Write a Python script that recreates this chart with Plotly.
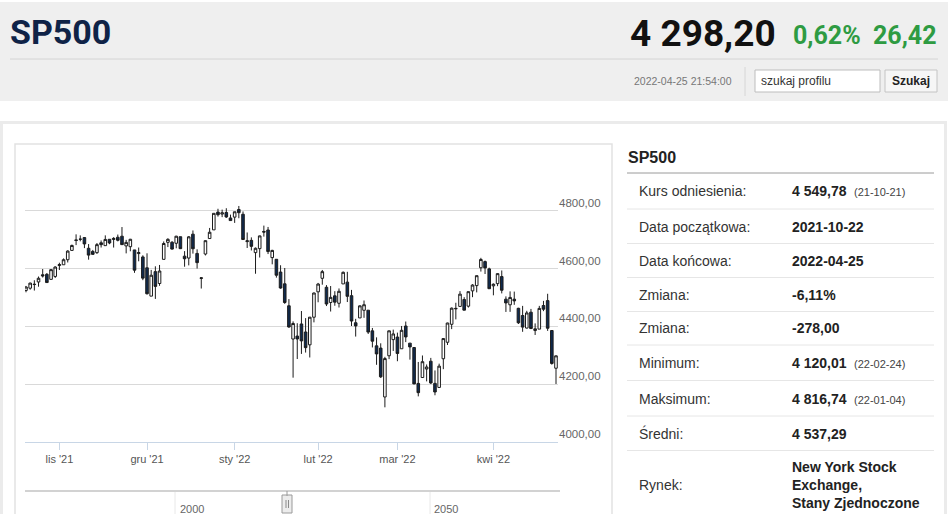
import plotly.graph_objects as go
import pandas as pd

W, H = 948, 514

# dni sesyjne (bez swiat i brakujacego notowania z 21.12)
skipped = ["2021-11-25", "2021-12-21", "2021-12-24", "2022-01-17", "2022-02-21", "2022-04-15"]
dates = [d.strftime("%Y-%m-%d") for d in pd.bdate_range("2021-10-20", "2022-04-25")
         if d.strftime("%Y-%m-%d") not in skipped]

opens = [
    4524.4, 4532.2, 4546.1, 4553.7, 4578.7, 4580.2, 4562.8, 4572.9,
    4610.6, 4613.3, 4630.7, 4662.9, 4699.3, 4701.5, 4707.3, 4670.3, 4659.4, 4655.2, 4689.3,
    4679.4, 4701.5, 4700.7, 4708.4, 4712.0, 4678.5, 4675.8, 4664.6, 4652.0, 4640.3,
    4602.8, 4504.7, 4589.5, 4548.4, 4632.0, 4690.9, 4691.0, 4687.6, 4710.3, 4643.0, 4636.5,
    4719.1, 4652.5, 4566.0, 4650.4, 4704.0, 4734.0, 4795.5, 4788.6, 4794.2, 4775.2,
    4778.1, 4804.5, 4788.0, 4693.4, 4697.7, 4655.3, 4669.1, 4728.6, 4733.6, 4638.0,
    4632.2, 4588.0, 4547.4, 4471.4, 4356.3, 4366.6, 4408.4, 4380.6, 4336.2, 4431.8,
    4519.6, 4566.4, 4535.4, 4482.8, 4505.8, 4480.0, 4547.0, 4553.2, 4506.3, 4412.6,
    4429.3, 4455.8, 4456.1, 4384.6, 4332.7, 4324.9, 4155.8, 4298.4, 4354.2,
    4363.1, 4322.6, 4401.3, 4342.1, 4327.0, 4202.7, 4223.1, 4252.6, 4279.5, 4202.8,
    4188.8, 4288.1, 4345.1, 4407.3, 4462.4, 4469.1, 4493.1, 4470.0, 4522.9, 4541.1,
    4602.9, 4624.2, 4599.0,
    4540.3, 4548.0, 4572.5, 4494.2, 4474.7, 4494.2, 4462.6, 4437.6, 4394.3, 4449.1,
    4385.6, 4390.6, 4472.3, 4489.2, 4385.8, 4255.3,
]
highs = [
    4540.0, 4551.4, 4559.7, 4572.6, 4598.5, 4584.6, 4597.6, 4608.1,
    4620.3, 4635.2, 4663.5, 4683.0, 4718.5, 4714.9, 4708.5, 4684.9, 4664.6, 4688.5, 4697.4,
    4715.0, 4701.5, 4708.8, 4717.8, 4743.8, 4699.4, 4702.9, 4664.6, 4672.9, 4646.0,
    4652.9, 4595.5, 4608.0, 4612.6, 4694.0, 4705.1, 4695.3, 4713.6, 4710.3, 4660.5, 4712.6,
    4732.0, 4666.7, 4570.0, 4697.7, 4740.7, 4791.5, 4807.0, 4804.1, 4808.9, 4786.8,
    4796.6, 4816.7, 4797.7, 4725.0, 4708.0, 4673.0, 4714.1, 4748.8, 4744.1, 4665.1,
    4632.2, 4611.6, 4602.1, 4494.5, 4417.4, 4411.0, 4453.2, 4428.7, 4432.7, 4516.9,
    4550.5, 4595.3, 4542.9, 4539.7, 4521.9, 4531.3, 4590.0, 4588.9, 4526.3, 4426.2,
    4472.8, 4489.6, 4456.1, 4394.6, 4362.1, 4341.5, 4294.7, 4385.3, 4388.8,
    4378.5, 4401.5, 4416.8, 4342.1, 4327.0, 4276.9, 4299.4, 4268.3, 4291.0, 4247.6,
    4271.1, 4358.9, 4412.7, 4465.4, 4481.8, 4522.0, 4501.1, 4520.6, 4546.0, 4575.7,
    4637.3, 4627.8, 4603.1,
    4548.7, 4583.5, 4593.5, 4503.9, 4521.2, 4520.4, 4464.4, 4471.0, 4453.9, 4460.5,
    4410.3, 4471.0, 4488.3, 4512.9, 4385.8, 4299.0,
]
lows = [
    4518.0, 4526.9, 4524.0, 4537.4, 4569.2, 4551.7, 4562.8, 4567.6,
    4595.1, 4613.3, 4621.2, 4662.6, 4681.3, 4694.4, 4670.9, 4630.9, 4648.3, 4650.8, 4672.9,
    4679.4, 4684.4, 4672.8, 4694.2, 4682.2, 4652.7, 4659.9, 4585.4, 4625.3, 4560.0,
    4510.3, 4504.7, 4495.1, 4540.5, 4632.0, 4674.5, 4666.0, 4670.2, 4667.6, 4606.5, 4611.2,
    4651.9, 4600.2, 4531.0, 4645.5, 4704.0, 4734.0, 4780.0, 4778.1, 4775.3, 4765.8,
    4758.2, 4774.3, 4699.4, 4671.3, 4662.7, 4582.2, 4638.3, 4710.6, 4650.3, 4614.8,
    4568.7, 4530.2, 4478.0, 4395.3, 4222.6, 4287.1, 4304.8, 4309.5, 4292.5, 4414.0,
    4483.5, 4544.3, 4470.4, 4451.5, 4471.5, 4465.4, 4547.0, 4484.3, 4401.4, 4364.8,
    4429.3, 4429.7, 4373.8, 4327.2, 4267.1, 4221.5, 4120.0, 4286.8, 4315.1,
    4279.5, 4322.6, 4345.6, 4285.0, 4199.9, 4157.9, 4223.1, 4209.8, 4200.5, 4161.7,
    4187.9, 4252.0, 4335.7, 4390.6, 4424.3, 4469.1, 4455.8, 4465.2, 4501.1, 4517.7,
    4589.7, 4581.3, 4530.4,
    4507.6, 4539.2, 4514.2, 4450.0, 4450.3, 4474.6, 4408.4, 4381.3, 4392.7, 4390.8,
    4370.3, 4390.6, 4452.7, 4384.5, 4267.6, 4200.8,
]
closes = [
    4536.2, 4549.8, 4544.9, 4566.5, 4574.8, 4551.7, 4596.4, 4605.4,
    4613.7, 4630.7, 4660.6, 4680.1, 4697.5, 4701.7, 4685.3, 4646.7, 4649.3, 4682.9, 4682.8,
    4700.9, 4688.7, 4704.5, 4698.0, 4682.9, 4690.7, 4701.5, 4594.6, 4655.3, 4567.0,
    4513.0, 4577.1, 4538.4, 4591.7, 4686.8, 4701.2, 4667.5, 4712.0, 4669.0, 4634.1, 4709.9,
    4668.7, 4620.6, 4568.0, 4696.6, 4725.8, 4791.2, 4786.4, 4793.1, 4778.7, 4766.2,
    4796.6, 4793.5, 4700.6, 4696.1, 4677.0, 4670.3, 4713.1, 4726.4, 4659.0, 4662.9,
    4577.1, 4532.8, 4482.7, 4397.9, 4410.1, 4356.5, 4349.9, 4326.5, 4431.9, 4515.6,
    4546.5, 4589.4, 4477.4, 4500.5, 4483.9, 4521.5, 4587.2, 4504.1, 4418.6, 4401.7,
    4471.1, 4475.0, 4380.3, 4348.9, 4304.8, 4225.5, 4288.7, 4384.7, 4373.9,
    4306.3, 4386.5, 4363.5, 4328.9, 4201.1, 4170.7, 4277.9, 4259.5, 4204.3, 4173.1,
    4262.5, 4357.9, 4411.7, 4463.1, 4461.2, 4511.6, 4456.2, 4520.2, 4543.1, 4575.5,
    4631.6, 4602.5, 4530.4,
    4545.9, 4582.6, 4525.1, 4481.2, 4500.2, 4488.3, 4412.5, 4397.5, 4446.6, 4392.6,
    4391.7, 4462.2, 4459.5, 4393.7, 4271.8, 4298.2,
]

month_ticks = ["2021-11-01", "2021-12-01", "2022-01-03", "2022-02-01", "2022-03-01", "2022-04-01"]
month_labels = ["lis '21", "gru '21", "sty '22", "lut '22", "mar '22", "kwi '22"]
y_ticks = [4000, 4200, 4400, 4600, 4800, 5000]
y_labels = ["4000,00", "4200,00", "4400,00", "4600,00", "4800,00", ""]

table_labels = ["Kurs odniesienia:", "Data początkowa:", "Data końcowa:", "Zmiana:", "Zmiana:",
                "Minimum:", "Maksimum:", "Średni:", "Rynek:"]
table_values = ["4 549,78", "2021-10-22", "2022-04-25", "-6,11%", "-278,00",
                "4 120,01", "4 816,74", "4 537,29",
                "New York Stock<br>Exchange,<br>Stany Zjednoczone"]
table_notes = ["(21-10-21)", "", "", "", "", "(22-02-24)", "(22-01-04)", "", ""]


def px(x):
    return x / W


def py(y):
    return 1 - y / H


fig = go.Figure()

fig.add_trace(go.Candlestick(
    x=dates, open=opens, high=highs, low=lows, close=closes,
    increasing=dict(fillcolor="white", line=dict(color="#1c1c1c", width=1)),
    decreasing=dict(fillcolor="#0f2a4e", line=dict(color="#1c1c1c", width=1)),
    whiskerwidth=0, showlegend=False, hoverinfo="x+y",
))

shapes = []


def rect(x0, y0, x1, y1, fill, line=None, lw=1):
    shapes.append(dict(type="rect", xref="paper", yref="paper", layer="below",
                       x0=px(x0), x1=px(x1), y0=py(y0), y1=py(y1), fillcolor=fill,
                       line=dict(color=line or fill, width=lw if line else 0)))


def hline(x0, x1, y, color, lw=1, layer="below"):
    shapes.append(dict(type="line", xref="paper", yref="paper", layer=layer,
                       x0=px(x0), x1=px(x1), y0=py(y), y1=py(y), line=dict(color=color, width=lw)))


def vline(x, y0, y1, color, lw=1, layer="below"):
    shapes.append(dict(type="line", xref="paper", yref="paper", layer=layer,
                       x0=px(x), x1=px(x), y0=py(y0), y1=py(y1), line=dict(color=color, width=lw)))


# naglowek
rect(0, 2, W, 101, "#efefef")
hline(10, 938, 59, "#d4d4d4")
vline(745, 67, 96, "#d6d6d6")
rect(755, 70, 880, 92, "white", "#bdbdbd")
rect(885, 70, 937, 92, "#f6f6f6", "#c4c4c4")

# kontener i panel wykresu
rect(1.5, 122.5, 945.5, 540, "white", "#ebebeb", 3)
rect(15, 144, 612, 540, "white", "#e2e2e2", 1.5)

# tabela
hline(627, 934, 173, "#9a9a9a")
for y in [209, 243.5, 277.5, 311.5, 345, 380.5, 416, 450.5]:
    hline(627, 934, y, "#e6e6e6")

# nawigator
hline(25, 560, 491, "#d2d2d2", 2)
vline(175, 492, 514, "#e8e8e8")
vline(430, 492, 514, "#e8e8e8")
vline(287, 491, 496, "#9a9a9a", 1, "above")
rect(282, 495, 292, 513, "#ececec", "#9a9a9a")
vline(286, 500, 508, "#8a8a8a", 1, "above")
vline(288.5, 500, 508, "#8a8a8a", 1, "above")

ann = []


def text(x, y, s, size, color="#333", family="Liberation Sans", xanchor="left", bold=False, align="left"):
    ann.append(dict(xref="paper", yref="paper", x=px(x), y=py(y), text=f"<b>{s}</b>" if bold else s,
                    showarrow=False, xanchor=xanchor, yanchor="middle", align=align,
                    font=dict(size=size, color=color, family=family)))


text(8, 32, "SP500", 34, "#0f2347", "Roboto", bold=True)
text(778, 33, "4 298,20", 37, "#111111", "Roboto", "right", True)
text(863, 36, "0,62%", 25, "#2e9b42", "Roboto", "right", True)
text(939, 36, "26,42", 25, "#2e9b42", "Roboto", "right", True)
text(734, 81, "2022-04-25 21:54:00", 10.5, "#777777", "Liberation Sans", "right")
text(759, 81, "szukaj profilu", 12, "#333333", "Liberation Sans")
text(911, 81, "Szukaj", 12, "#222222", "Liberation Sans", "center", True)

text(626, 157, "SP500", 16, "#222222", bold=True)
row_y = [191, 226.5, 260.5, 295, 328, 363, 398.5, 433.5, 484.5]
for y, lab, val, note in zip(row_y, table_labels, table_values, table_notes):
    text(637, y, lab, 14, "#333333")
    text(790, y, val, 14, "#222222", bold=True)
    if note:
        text(852, y + 1, note, 11, "#444444")

text(178, 509, "2000", 11, "#666666")
text(432, 509, "2050", 11, "#666666")

fig.update_layout(
    width=W, height=H,
    margin=dict(l=0, r=0, t=0, b=0),
    paper_bgcolor="white", plot_bgcolor="rgba(0,0,0,0)",
    font=dict(family="Liberation Sans", size=11, color="#555555"),
    shapes=shapes, annotations=ann,
    boxgap=0.12,
    xaxis=dict(
        type="category", domain=[px(25), px(558)], range=[-0.24, 127.48],
        tickvals=month_ticks, ticktext=month_labels,
        ticks="outside", ticklen=7, tickcolor="#c8d6e6", tickwidth=1,
        showline=True, linecolor="#c8d6e6", linewidth=1,
        showgrid=False, rangeslider=dict(visible=False),
        tickfont=dict(size=11, color="#555555"),
    ),
    yaxis=dict(
        side="right", domain=[py(442), py(153)], range=[4000, 5000],
        tickvals=y_ticks, ticktext=y_labels, ticklabelposition="outside top",
        showgrid=True, gridcolor="#d9d9d9", gridwidth=1, zeroline=False,
        tickfont=dict(size=11.5, color="#666666"),
    ),
)

# strona bez domyslnego marginesu przegladarki
fig.write_html("out.html", config={"displayModeBar": False},
               post_script="document.body.style.margin='0px';")
